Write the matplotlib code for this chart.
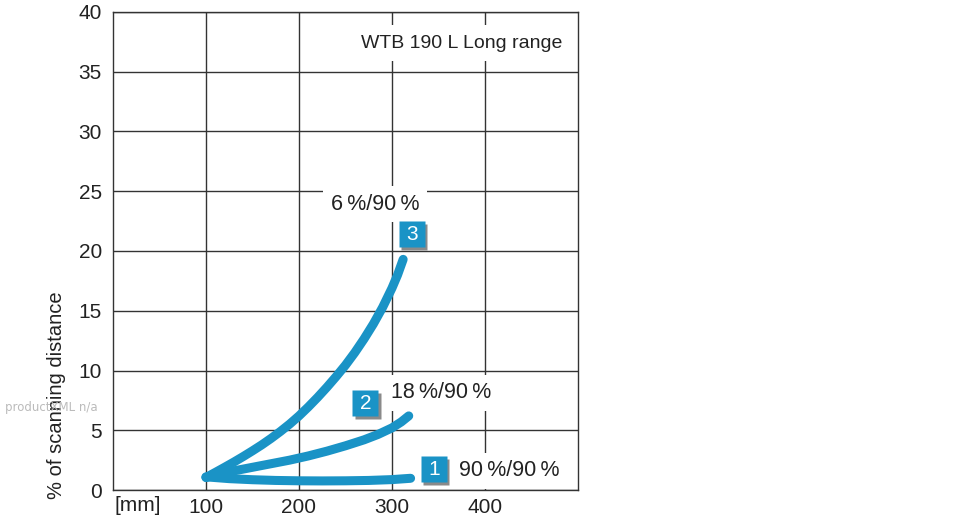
import matplotlib
matplotlib.use("Agg")
import matplotlib.pyplot as plt
from matplotlib.transforms import offset_copy

plt.rcParams['font.family'] = ['Liberation Sans', 'DejaVu Sans']

# curves: distance [mm] vs % of scanning distance
x1 = [100, 125, 150, 175, 200, 225, 250, 275, 300, 320]
y1 = [1.1, 0.95, 0.86, 0.8, 0.77, 0.76, 0.77, 0.8, 0.87, 0.98]
x2 = [100, 115, 130, 150, 170, 190, 210, 230, 250, 270, 285, 300, 310, 318]
y2 = [1.05, 1.35, 1.6, 1.9, 2.2, 2.5, 2.85, 3.25, 3.7, 4.2, 4.65, 5.2, 5.7, 6.2]
x3 = [100, 110, 120, 130, 140, 150, 160, 170, 180, 190, 200, 210, 220, 230,
      240, 250, 260, 270, 280, 290, 300, 306, 312]
y3 = [1.05, 1.47, 1.9, 2.34, 2.8, 3.28, 3.78, 4.32, 4.9, 5.52, 6.2, 6.95, 7.75, 8.6,
      9.5, 10.45, 11.5, 12.65, 13.9, 15.3, 16.9, 18.0, 19.3]

box_nums = ['1', '2', '3']
box_x = [345, 271.5, 321.5]
box_y = [1.72, 7.24, 21.4]
lab_txt = ['90\u2009%/90\u2009%', '18\u2009%/90\u2009%', '6\u2009%/90\u2009%']
lab_x = [372, 298.6, 281.7]
lab_y = [1.62, 8.15, 23.9]

xticks = [100, 200, 300, 400]
yticks = [0, 5, 10, 15, 20, 25, 30, 35, 40]

blue = '#1a93c6'

fig = plt.figure(figsize=(9.7, 5.2), dpi=100)
ax = fig.add_axes([113/970, 30/520, 465/970, 478/520])
ax.set_xlim(0, 500)
ax.set_ylim(0, 40)
ax.set_xticks(xticks)
ax.set_xticklabels([str(t) for t in xticks])
ax.set_yticks(yticks)
ax.tick_params(length=0, labelsize=15, colors='#222222')
ax.tick_params(axis='x', pad=6)
ax.tick_params(axis='y', pad=8)
ax.grid(True, color='#333333', lw=1.0)
ax.set_axisbelow(True)
for s in ax.spines.values():
    s.set_color('#333333')
    s.set_linewidth(1.0)

for xs, ys in [(x1, y1), (x2, y2), (x3, y3)]:
    ax.plot(xs, ys, color=blue, lw=6.5, solid_capstyle='round', solid_joinstyle='round', zorder=3)

# labels with white backgrounds that cut the grid
for t, x, y in zip(lab_txt, lab_x, lab_y):
    ha = 'center' if t.startswith('6') else 'left'
    ax.text(x, y, t, fontsize=15.5, color='#222222', ha=ha, va='center', zorder=2.5,
            bbox=dict(boxstyle='square,pad=0.35', fc='white', ec='none'))

ax.text(482.8, 37.4, 'WTB 190 L Long range', fontsize=14, color='#222222',
        ha='right', va='center', zorder=2.5,
        bbox=dict(boxstyle='square,pad=0.5', fc='white', ec='none'))

# numbered boxes with grey shadow
shadow = offset_copy(ax.transData, fig=fig, x=2.5, y=-2.5, units='dots')
ax.plot(box_x, box_y, 's', ms=18.5, color='#8a8a8a', mec='none', transform=shadow, zorder=4)
ax.plot(box_x, box_y, 's', ms=18.5, color=blue, mec='none', zorder=5)
for n, x, y in zip(box_nums, box_x, box_y):
    ax.text(x, y, n, fontsize=15, color='white', ha='center', va='center', zorder=6)

mm = ax.text(2, -6/478, '[mm]', fontsize=15, color='#222222', ha='left', va='top',
             transform=ax.get_xaxis_transform())

fig.text(57/970, 1 - 395/520, '% of scanning distance', rotation=90, fontsize=14.5,
         color='#222222', ha='center', va='center')
fig.text(5/970, 1 - 408/520, 'productXML n/a', fontsize=8.5, color='#bbbbbb',
         ha='left', va='center', family='DejaVu Sans')

fig.savefig('out.png', dpi=100)
